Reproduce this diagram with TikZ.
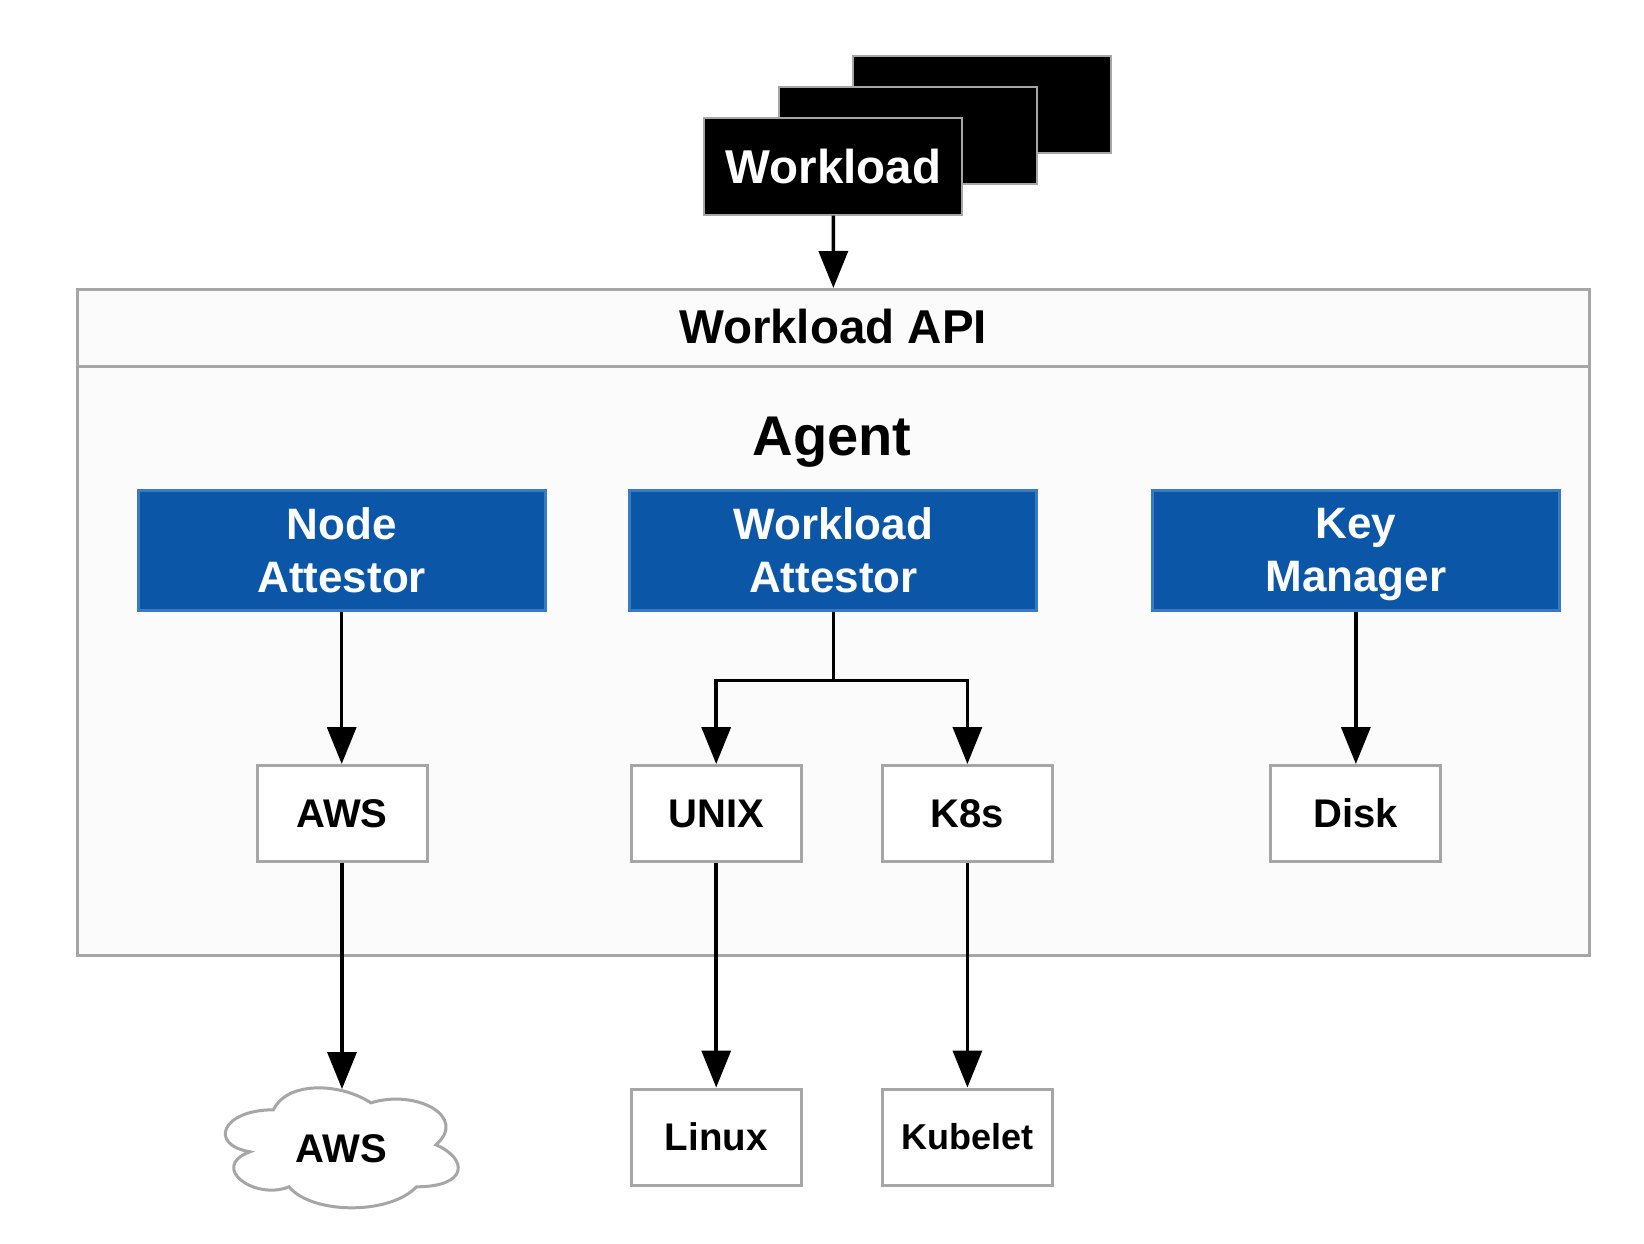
\documentclass[tikz,border=0pt]{standalone}
\usepackage{fontspec}
\setmainfont{Liberation Sans}
\usetikzlibrary{arrows.meta}
\definecolor{boxgray}{RGB}{166,166,166}
\definecolor{bluefill}{RGB}{12,86,167}
\definecolor{blueline}{RGB}{58,122,192}
\definecolor{panel}{RGB}{251,251,251}
\begin{document}
\begin{tikzpicture}[x=1pt,y=-1pt,
  wbox/.style={draw=boxgray, line width=3pt, fill=white, minimum width=170pt, minimum height=96pt, inner sep=0pt, font=\bfseries\fontsize{40}{48}\selectfont},
  bluebox/.style={draw=blueline, line width=3pt, fill=bluefill, text=white, minimum width=407pt, minimum height=120pt, inner sep=0pt, align=center, font=\bfseries\fontsize{44}{53}\selectfont},
  blackbox/.style={draw=boxgray, line width=2pt, fill=black, text=white, minimum width=258pt, minimum height=97pt, inner sep=0pt, font=\bfseries\fontsize{47.5}{56}\selectfont},
  arr/.style={line width=3.5pt, -{Triangle[width=29pt,length=37pt]}},
]
\useasboundingbox[fill=white] (0,0) rectangle (1644,1244);

% agent panel
\node[draw=boxgray, line width=3pt, fill=panel, minimum width=1512pt, minimum height=665.7pt, inner sep=0pt] (agentbox) at (833.35,622.35) {};
\draw[boxgray, line width=3pt] (77.2,366) -- (1589.5,366);
\node[font=\bfseries\fontsize{47.5}{56}\selectfont, inner sep=0pt] (api) at (833,327) {Workload API};
\node[font=\bfseries\fontsize{56}{64}\selectfont, inner sep=0pt, anchor=base] (agent) at (832,455) {Agent};

% workload stack
\node[blackbox] (wl3) at (982,104.2) {};
\node[blackbox] (wl2) at (907.7,135.5) {};
\node[blackbox] (wl) at (833.3,166.2) {Workload};

% blue plugin boxes
\node[bluebox] (na) at (341.7,550) {Node\\Attestor};
\node[bluebox] (wa) at (833.35,550) {Workload\\Attestor};
\node[bluebox] (km) at (1355.85,550) {Key\\Mana\smash{g}er};

% white boxes
\node[wbox] (awsbox) at (342,813.5) {AWS};
\node[wbox] (unix) at (716.2,813.5) {UNIX};
\node[wbox] (k8s) at (967.4,813.5) {K8s};
\node[wbox] (disk) at (1355.5,813.5) {Disk};
\node[wbox, font=\bfseries\fontsize{38.5}{46}\selectfont] (linux) at (716.2,1137) {Linux};
\node[wbox, font=\bfseries\fontsize{36}{44}\selectfont] (kubelet) at (967.4,1137) {Kubelet};

% cloud
\begin{scope}[shift={(208.4,1074.8)}, x=260pt, y=-140pt]
\draw[boxgray, line width=3pt, fill=white] (0.25,0.25) .. controls (0.05,0.25) and (0,0.5) .. (0.16,0.55) .. controls (0,0.66) and (0.18,0.9) .. (0.31,0.8) .. controls (0.4,1) and (0.7,1) .. (0.8,0.8) .. controls (1,0.8) and (1,0.6) .. (0.875,0.5) .. controls (1,0.3) and (0.8,0.1) .. (0.625,0.2) .. controls (0.5,0.05) and (0.3,0.05) .. (0.25,0.25) -- cycle;
\end{scope}
\node[font=\bfseries\fontsize{40}{48}\selectfont, inner sep=0pt] (awscloud) at (341.5,1149) {AWS};
\coordinate (cloudtop) at (341.7,1089);
\coordinate (split) at (833.35,680.7);

% connectors
\draw[arr] (wl.south) -- (agentbox.north);
\draw[arr] (na.south) -- (na.south |- awsbox.north);
\draw[arr] (wa.south) -- (split) -| (unix.north);
\draw[arr] (wa.south) -- (split) -| (k8s.north);
\draw[arr] (km.south) -- (km.south |- disk.north);
\draw[arr] (awsbox.south) -- (awsbox.south |- cloudtop);
\draw[arr] (unix.south) -- (linux.north);
\draw[arr] (k8s.south) -- (kubelet.north);
\end{tikzpicture}
\end{document}
